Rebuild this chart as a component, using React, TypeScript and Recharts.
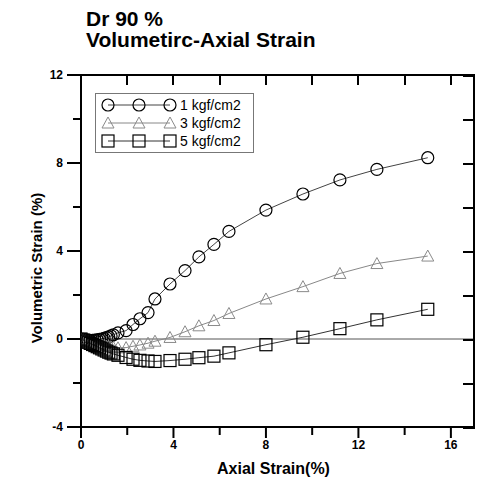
import React from "react";
import {
  ScatterChart,
  Scatter,
  XAxis,
  YAxis,
  ReferenceLine,
} from "recharts";

const FONT = '"Liberation Sans", Arial, sans-serif';

// axial strain (%) shared by the three tests
const strain = [
  0, 0.1, 0.2, 0.3, 0.4, 0.5, 0.6, 0.7, 0.8, 0.9, 1.0, 1.1, 1.2, 1.3, 1.4,
  1.6, 1.95, 2.25, 2.55, 2.9, 3.2, 3.85, 4.5, 5.1, 5.75, 6.4, 8.0, 9.6, 11.2,
  12.8, 15.0,
];

// volumetric strain (%)
const vol1 = [
  0, -0.02, -0.04, -0.05, -0.06, -0.06, -0.05, -0.04, -0.02, 0, 0.03, 0.06,
  0.1, 0.14, 0.19, 0.28, 0.38, 0.66, 0.92, 1.2, 1.82, 2.5, 3.11, 3.73, 4.3,
  4.89, 5.86, 6.59, 7.23, 7.71, 8.24,
];
const vol3 = [
  0, -0.03, -0.06, -0.09, -0.12, -0.15, -0.18, -0.21, -0.24, -0.27, -0.3,
  -0.32, -0.34, -0.36, -0.38, -0.4, -0.39, -0.33, -0.27, -0.19, -0.1, 0.07,
  0.33, 0.6, 0.84, 1.16, 1.82, 2.38, 2.98, 3.43, 3.77,
];
const vol5 = [
  0, -0.05, -0.1, -0.15, -0.2, -0.25, -0.3, -0.35, -0.4, -0.45, -0.5, -0.55,
  -0.6, -0.64, -0.68, -0.74, -0.84, -0.92, -0.97, -1.0, -1.02, -0.98, -0.92,
  -0.85, -0.78, -0.63, -0.26, 0.08, 0.47, 0.87, 1.35,
];

const xTicks = [0, 2, 4, 6, 8, 10, 12, 14, 16];
const yTicks = [-4, -2, 0, 2, 4, 6, 8, 10, 12];
const X_MAX = 17;
const Y_MIN = -4;
const Y_MAX = 12;

// plot box (chart margins + axis sizes)
const MARGIN = { top: 75, right: 3, bottom: 0, left: 0 };
const Y_AXIS_W = 81;
const X_AXIS_H = 50;
const SIZE = 477;
const PLOT = {
  left: MARGIN.left + Y_AXIS_W,
  top: MARGIN.top,
  right: SIZE - MARGIN.right,
  bottom: SIZE - MARGIN.bottom - X_AXIS_H,
};

const toPoints = (ys: number[]) => strain.map((x, i) => ({ x, y: ys[i] }));

const circle = (cx: number, cy: number) => (
  <circle cx={cx} cy={cy} r={6} fill="none" stroke="#000" strokeWidth={1.2} />
);
const triangle = (cx: number, cy: number) => (
  <polygon
    points={`${cx},${cy - 6} ${cx - 6},${cy + 5} ${cx + 6},${cy + 5}`}
    fill="none"
    stroke="#8a8a8a"
    strokeWidth={1}
  />
);
const square = (cx: number, cy: number) => (
  <rect x={cx - 6} y={cy - 6} width={12} height={12} fill="none" stroke="#000" strokeWidth={1.2} />
);

const series = [
  { name: "1 kgf/cm2", data: toPoints(vol1), marker: circle, line: "#444" },
  { name: "3 kgf/cm2", data: toPoints(vol3), marker: triangle, line: "#888" },
  { name: "5 kgf/cm2", data: toPoints(vol5), marker: square, line: "#333" },
];

const tickText = { fontFamily: FONT, fontSize: 12, fontWeight: 700, fill: "#000" };

const BottomTick = ({ x, y, payload }: any) => {
  const major = payload.value % 4 === 0;
  return (
    <g>
      <line x1={x} y1={y} x2={x} y2={y + (major ? 11 : 8)} stroke="#000" strokeWidth={2} />
      {major && (
        <text x={x} y={y + 22} textAnchor="middle" {...tickText}>
          {payload.value}
        </text>
      )}
    </g>
  );
};

const LeftTick = ({ x, y, payload }: any) => {
  const major = payload.value % 4 === 0;
  return (
    <g>
      <line x1={x} y1={y} x2={x - (major ? 14 : 8)} y2={y} stroke="#000" strokeWidth={2} />
      {major && (
        <text x={x - 18} y={y + 4} textAnchor="end" {...tickText}>
          {payload.value}
        </text>
      )}
    </g>
  );
};

// top and right borders of the frame with inward ticks (plain divs)
const Frame = () => {
  const w = PLOT.right - PLOT.left;
  const h = PLOT.bottom - PLOT.top;
  const fx = (v: number) => (v / X_MAX) * w;
  const fy = (v: number) => ((Y_MAX - v) / (Y_MAX - Y_MIN)) * h;
  return (
    <div
      style={{
        position: "absolute",
        left: PLOT.left - 1,
        top: PLOT.top - 1,
        width: w,
        height: h + 1,
        borderTop: "2px solid #000",
        borderRight: "2px solid #000",
        pointerEvents: "none",
        zIndex: 3,
      }}
    >
      {xTicks.map((t) => (
        <div
          key={`tx${t}`}
          style={{
            position: "absolute",
            left: fx(t),
            top: 0,
            width: 2,
            height: 9,
            background: "#000",
          }}
        />
      ))}
      {yTicks.map((t) => (
        <div
          key={`ty${t}`}
          style={{
            position: "absolute",
            right: 0,
            top: fy(t) - 1,
            width: 10,
            height: 2,
            background: "#000",
          }}
        />
      ))}
    </div>
  );
};

const LegendBox = () => (
  <div
    style={{
      position: "absolute",
      left: 95,
      top: 93,
      border: "1px solid #777",
      width: 157,
      padding: "2px 0",
      background: "#fff",
      fontFamily: FONT,
      zIndex: 4,
    }}
  >
    {series.map((s) => (
      <div key={s.name} style={{ display: "flex", alignItems: "center", height: 18 }}>
        <svg width={84} height={18} style={{ display: "block" }}>
          <line x1={12} y1={9} x2={74} y2={9} stroke={s.line} strokeWidth={1} />
          {s.marker(12, 9)}
          {s.marker(43, 9)}
          {s.marker(74, 9)}
        </svg>
        <span style={{ fontSize: 14, color: "#000" }}>{s.name}</span>
      </div>
    ))}
  </div>
);

const titleStyle: React.CSSProperties = {
  position: "absolute",
  left: 86,
  fontSize: 21,
  fontWeight: 700,
  lineHeight: "21px",
  color: "#000",
  whiteSpace: "nowrap",
};

export default function App() {
  return (
    <div
      style={{
        position: "absolute",
        left: 0,
        top: 0,
        width: SIZE,
        height: SIZE,
        background: "#fff",
        fontFamily: FONT,
      }}
    >
      <div style={{ ...titleStyle, top: 8 }}>Dr 90 %</div>
      <div style={{ ...titleStyle, top: 29 }}>Volumetirc-Axial Strain</div>
      <div
        style={{
          position: "absolute",
          left: 36,
          top: 268,
          transform: "translate(-50%, -50%) rotate(-90deg)",
          fontSize: 15,
          fontWeight: 700,
          whiteSpace: "nowrap",
          color: "#000",
        }}
      >
        Volumetric Strain (%)
      </div>
      <ScatterChart width={SIZE} height={SIZE} margin={MARGIN}>
        <XAxis
          type="number"
          dataKey="x"
          domain={[0, X_MAX]}
          ticks={xTicks}
          interval={0}
          tickSize={0}
          tickMargin={0}
          height={X_AXIS_H}
          axisLine={{ stroke: "#000", strokeWidth: 2 }}
          tickLine={false}
          tick={<BottomTick />}
          allowDataOverflow
          label={{
            value: "Axial Strain(%)",
            position: "insideBottom",
            offset: 3,
            dx: -4,
            style: { fontFamily: FONT, fontSize: 16, fontWeight: 700, fill: "#000" },
          }}
        />
        <YAxis
          type="number"
          dataKey="y"
          domain={[Y_MIN, Y_MAX]}
          ticks={yTicks}
          interval={0}
          tickSize={0}
          tickMargin={0}
          width={Y_AXIS_W}
          axisLine={{ stroke: "#000", strokeWidth: 2 }}
          tickLine={false}
          tick={<LeftTick />}
          allowDataOverflow
        />
        <ReferenceLine y={0} stroke="#555" strokeWidth={1} />
        {series.map((s) => (
          <Scatter
            key={s.name}
            name={s.name}
            data={s.data}
            line={{ stroke: s.line, strokeWidth: 1 }}
            lineType="joint"
            shape={(p: any) => s.marker(p.cx, p.cy)}
            isAnimationActive={false}
          />
        ))}
      </ScatterChart>
      <Frame />
      <LegendBox />
    </div>
  );
}
